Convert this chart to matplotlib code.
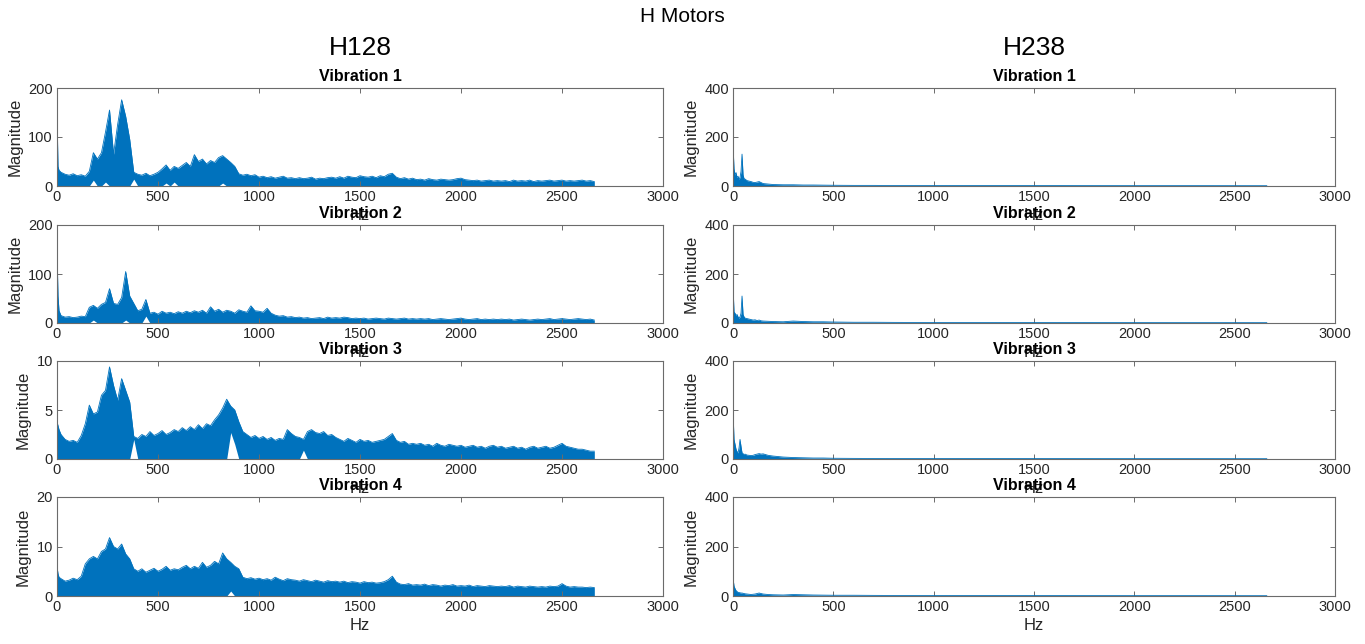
import numpy as np
import matplotlib
matplotlib.use("Agg")
import matplotlib.pyplot as plt

plt.rcParams['font.family'] = ['Liberation Sans Narrow', 'Liberation Sans', 'DejaVu Sans']

# ---------------- data (upper / lower envelope of each spectrum) -------------
# H128 frequency grid (Hz)
LEFT_FREQ = np.concatenate(([0, 5, 10], np.arange(20, 2661, 20)))

H128_V1 = [150, 40, 32, 28, 24, 22, 25, 21, 23, 20, 30, 68,
           55, 68, 110, 155, 65, 125, 176, 142, 95, 28,
           24, 22, 26, 21, 24, 28, 35, 43, 32, 40,
           36, 42, 48, 40, 64, 50, 55, 45, 52, 48,
           58, 62, 55, 48, 40, 25, 22, 24, 21, 23,
           18, 20, 17, 19, 16, 18, 20, 16, 17, 15,
           17, 15, 16, 18, 14, 16, 15, 17, 18, 16,
           19, 16, 20, 18, 17, 21, 19, 18, 20, 17,
           21, 19, 24, 26, 18, 15, 17, 14, 16, 13,
           14, 12, 15, 13, 12, 14, 13, 12, 13, 15,
           16, 13, 12, 11, 12, 10, 11, 12, 10, 11,
           10, 11, 9, 12, 10, 11, 10, 12, 9, 11,
           10, 11, 12, 10, 11, 12, 10, 11, 10, 11,
           12, 10, 11, 9]
H128_V2 = [150, 55, 25, 15, 12, 13, 11, 12, 14, 13, 32, 36,
           30, 38, 42, 70, 40, 38, 52, 105, 55, 40,
           25, 28, 48, 20, 22, 18, 24, 20, 22, 19,
           23, 20, 24, 21, 25, 22, 26, 20, 33, 24,
           28, 22, 26, 24, 20, 27, 24, 22, 35, 25,
           24, 22, 30, 20, 16, 14, 15, 12, 13, 11,
           12, 10, 11, 9, 10, 11, 9, 12, 10, 11,
           10, 12, 11, 9, 10, 9, 10, 8, 9, 10,
           9, 8, 10, 9, 8, 9, 10, 8, 9, 8,
           9, 8, 9, 7, 8, 9, 8, 7, 8, 9,
           10, 8, 7, 8, 9, 7, 8, 7, 8, 7,
           8, 7, 8, 6, 7, 8, 7, 6, 7, 8,
           7, 8, 9, 7, 8, 9, 8, 7, 8, 9,
           8, 7, 8, 6]
H128_V3 = [3.8, 3.4, 3.0, 2.5, 2.0, 1.8, 1.9, 1.7, 2.4, 3.6, 5.5, 4.6,
           4.8, 6.5, 7.0, 9.4, 7.5, 6.0, 8.2, 7.0, 5.8, 2.3,
           2.1, 2.5, 2.3, 2.8, 2.4, 2.6, 2.9, 2.5, 2.7, 3.0,
           2.8, 3.2, 2.9, 3.3, 3.0, 3.5, 3.1, 3.6, 3.4, 4.0,
           4.5, 5.2, 6.1, 5.4, 5.0, 3.8, 2.8, 2.5, 2.2, 2.4,
           2.1, 2.3, 2.0, 2.2, 1.9, 2.1, 2.0, 3.0, 2.6, 2.3,
           2.2, 2.0, 2.8, 3.0, 2.7, 2.6, 2.8, 2.4, 2.5, 2.2,
           2.0, 1.8, 2.1, 1.9, 1.7, 2.0, 1.8, 1.9, 1.7, 1.8,
           1.9, 2.0, 2.3, 2.6, 1.9, 1.7, 1.8, 1.5, 1.6, 1.5,
           1.6, 1.4, 1.5, 1.3, 1.6, 1.4, 1.3, 1.5, 1.4, 1.3,
           1.4, 1.2, 1.3, 1.4, 1.2, 1.3, 1.1, 1.3, 1.4, 1.2,
           1.3, 1.1, 1.2, 1.3, 1.1, 1.2, 1.0, 1.2, 1.3, 1.1,
           1.2, 1.3, 1.1, 1.2, 1.4, 1.6, 1.3, 1.2, 1.1, 1.0,
           1.0, 0.9, 0.8, 0.8]
H128_V4 = [6.0, 4.5, 3.8, 3.5, 3.0, 3.2, 3.6, 3.3, 4.0, 6.5, 7.5, 8.0,
           7.5, 9.0, 9.5, 11.8, 10.0, 9.5, 10.5, 8.5, 7.5, 5.5,
           5.0, 5.5, 4.8, 5.2, 5.6, 5.0, 5.4, 6.0, 5.2, 5.5,
           5.3, 5.8, 6.2, 5.5, 6.0, 5.6, 6.8, 5.8, 6.2, 7.0,
           6.5, 8.7, 7.5, 6.8, 6.0, 5.5, 3.8, 3.5, 3.7, 3.4,
           3.6, 3.3, 3.5, 3.2, 3.8, 3.4, 3.1, 3.5, 3.3, 3.2,
           3.0, 3.3, 3.1, 2.9, 3.2, 3.0, 2.8, 3.1, 2.9, 3.0,
           2.8, 3.0, 2.7, 2.9, 2.8, 2.6, 2.9, 2.7, 2.8, 2.6,
           2.7, 2.9, 3.3, 4.0, 2.8, 2.4, 2.3, 2.5, 2.2, 2.3,
           2.2, 2.4, 2.1, 2.3, 2.2, 2.0, 2.2, 2.1, 2.3, 2.0,
           2.1, 2.0, 2.2, 1.9, 2.1, 2.0, 1.9, 2.1, 2.0, 1.9,
           2.0, 1.9, 2.1, 1.8, 2.0, 1.9, 1.8, 2.0, 1.9, 1.8,
           1.9, 1.8, 2.0, 1.9, 2.0, 2.5, 2.0, 1.8, 1.9, 1.8,
           1.8, 1.7, 1.8, 1.7]

# white gaps under the band (frequency, lower level)
H128_V1_GAP_F = [180, 240, 380, 540, 580, 820]
H128_V1_GAP_V = [12, 8, 14, 6, 8, 6]
H128_V2_GAP_F = [180, 340, 440]
H128_V2_GAP_V = [6, 6, 14]
H128_V3_GAP_F = [380, 860, 880, 1220]
H128_V3_GAP_V = [2.0, 2.7, 1.5, 0.9]
H128_V4_GAP_F = [860]
H128_V4_GAP_V = [1.0]

# H238 frequency grid (Hz)
RIGHT_FREQ = [0, 2, 5, 10, 15, 20, 25, 30, 35, 40, 45, 50, 55, 60, 70, 80, 90, 100,
              110, 120, 130, 140, 150, 175, 200, 250, 300, 350, 400, 450, 500, 600,
              700, 800, 1000, 1250, 1500, 1750, 2000, 2250, 2500, 2660]
H238_V1 = [280, 130, 70, 45, 55, 35, 40, 28, 35, 60, 130, 45, 30, 28, 22, 20, 18, 15,
           14, 16, 18, 14, 10, 8, 6, 5, 5, 4, 4, 3.5, 3, 2.5,
           2.5, 2, 2, 1.8, 1.8, 1.6, 1.5, 1.5, 1.4, 1.3]
H238_V2 = [300, 110, 45, 40, 30, 35, 25, 20, 25, 40, 110, 35, 25, 20, 18, 16, 14, 12,
           13, 10, 12, 9, 8, 7, 6, 5, 8, 6, 5, 5, 4, 3,
           3, 2.5, 2, 2, 1.8, 1.7, 1.6, 1.5, 1.5, 1.4]
H238_V3 = [270, 150, 80, 60, 40, 30, 25, 45, 80, 50, 25, 22, 18, 20, 16, 15, 14, 15,
           18, 20, 22, 20, 21, 15, 12, 8, 6, 5, 4, 4, 3, 2.5,
           2.2, 2, 2, 1.8, 1.7, 1.6, 1.5, 1.5, 1.4, 1.3]
H238_V4 = [390, 60, 40, 30, 22, 18, 15, 14, 13, 12, 12, 11, 10, 9, 8, 7, 6, 7,
           8, 10, 12, 10, 8, 6, 5, 4, 6, 5, 4, 3.5, 3, 3,
           2.5, 2.2, 2, 1.8, 1.7, 1.6, 1.5, 1.5, 1.4, 1.3]

COLUMN_TITLES = ["H128", "H238"]
PANEL_TITLES = ["Vibration 1", "Vibration 2", "Vibration 3", "Vibration 4"]
LEFT_YLIMS = [200, 200, 10, 20]
LEFT_YTICKS = [[0, 100, 200], [0, 100, 200], [0, 5, 10], [0, 10, 20]]
RIGHT_YTICKS = [0, 200, 400]
XTICKS = [0, 500, 1000, 1500, 2000, 2500, 3000]

LEFT_SERIES = [H128_V1, H128_V2, H128_V3, H128_V4]
LEFT_GAPS = [(H128_V1_GAP_F, H128_V1_GAP_V), (H128_V2_GAP_F, H128_V2_GAP_V),
             (H128_V3_GAP_F, H128_V3_GAP_V), (H128_V4_GAP_F, H128_V4_GAP_V)]
RIGHT_SERIES = [H238_V1, H238_V2, H238_V3, H238_V4]

# ---------------- drawing -------------
BLUE = '#0072BD'
AXC = '#6b6b6b'
TXT = '#262626'

fig = plt.figure(figsize=(13.65, 6.44), dpi=100)

col_x = [(57 / 1365, 606 / 1365), (733 / 1365, 602 / 1365)]
rows_px = [(88, 186), (225, 323), (361, 459), (497, 596)]


def style(ax, ymax, yticks):
    ax.set_xlim(0, 3000)
    ax.set_ylim(0, ymax)
    ax.set_xticks(XTICKS)
    ax.set_yticks(yticks)
    ax.tick_params(direction='in', top=True, right=True, length=3.5, width=0.7,
                   color=AXC, labelcolor=TXT, labelsize=10.5, pad=3)
    for s in ax.spines.values():
        s.set_color(AXC)
        s.set_linewidth(0.8)
    ax.set_ylabel("Magnitude", fontsize=12, color=TXT, labelpad=4)
    ax.set_xlabel("Hz", fontsize=12, color=TXT, labelpad=3)


axes = []
for c in range(2):
    for r in range(4):
        top, bot = rows_px[r]
        x0, w = col_x[c]
        ax = fig.add_axes([x0, 1 - bot / 644, w, (bot - top) / 644])
        axes.append((c, r, ax))

for c, r, ax in axes:
    if c == 0:
        freq = LEFT_FREQ
        upper = np.array(LEFT_SERIES[r], dtype=float)
        lower = np.zeros_like(upper)
        gf, gv = LEFT_GAPS[r]
        for f, v in zip(gf, gv):
            lower[freq == f] = v
        ymax, yt = LEFT_YLIMS[r], LEFT_YTICKS[r]
    else:
        freq = np.array(RIGHT_FREQ, dtype=float)
        upper = np.array(RIGHT_SERIES[r], dtype=float)
        lower = np.zeros_like(upper)
        ymax, yt = 400, RIGHT_YTICKS
    ax.fill_between(freq, lower, upper, color=BLUE, lw=0)
    ax.plot(freq, upper, color=BLUE, lw=0.6)
    style(ax, ymax, yt)
    ax.set_title(PANEL_TITLES[r], fontsize=11.5, fontweight='bold', color='black', pad=5)

fig.text(0.5, 1 - 17 / 644, "H Motors", ha='center', va='center', fontsize=15, color='black')
fig.text((57 + 663) / 2 / 1365, 1 - 48 / 644, COLUMN_TITLES[0], ha='center', va='center',
         fontsize=19, color='black')
fig.text((733 + 1335) / 2 / 1365, 1 - 48 / 644, COLUMN_TITLES[1], ha='center', va='center',
         fontsize=19, color='black')

fig.savefig("out.png", dpi=100, facecolor='white')
